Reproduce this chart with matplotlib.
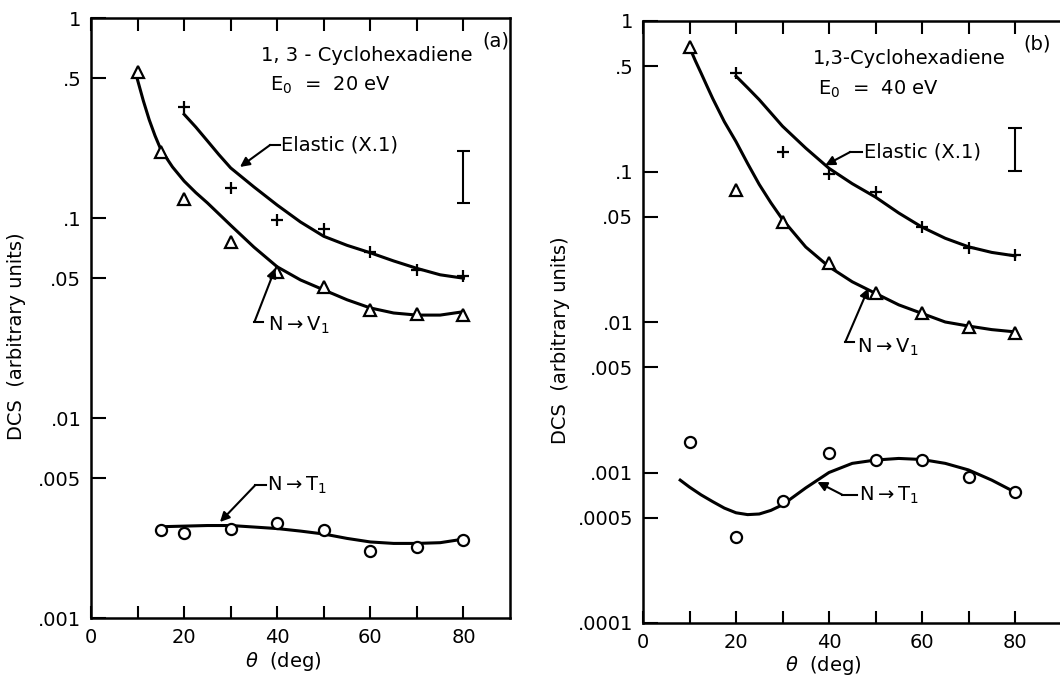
import matplotlib
matplotlib.use("Agg")
import matplotlib.pyplot as plt

plt.rcParams['font.family'] = ['DejaVu Sans']
plt.rcParams['mathtext.fontset'] = 'dejavusans'

# ---------------- Panel (a): E0 = 20 eV ----------------
theta_pts_a = [20, 30, 40, 50, 60, 70, 80]
elastic_pts_a = [0.359, 0.141, 0.098, 0.088, 0.0676, 0.055, 0.051]
theta_curve_el_a = [20, 22.5, 25, 27.5, 30, 35, 40, 45, 50, 55, 60, 65, 70, 75, 80]
elastic_curve_a = [0.33, 0.285, 0.243, 0.207, 0.178, 0.143, 0.116, 0.0955, 0.081, 0.073, 0.067,
                   0.061, 0.056, 0.052, 0.050]

theta_v_a = [10, 15, 20, 30, 40, 50, 60, 70, 80]
nv1_pts_a = [0.537, 0.214, 0.124, 0.076, 0.054, 0.045, 0.0347, 0.033, 0.0327]
theta_curve_v_a = [10, 11.25, 12.5, 13.75, 15, 17.5, 20, 22.5, 25, 30, 35, 40, 45, 50, 55, 60, 65,
                   70, 75, 80]
nv1_curve_a = [0.49, 0.385, 0.31, 0.258, 0.22, 0.18, 0.153, 0.134, 0.119, 0.092, 0.0715, 0.057,
               0.049, 0.0437, 0.039, 0.0355, 0.0335, 0.0327, 0.0327, 0.034]

theta_t_a = [15, 20, 30, 40, 50, 60, 70, 80]
nt1_pts_a = [0.00277, 0.00267, 0.0028, 0.00297, 0.00275, 0.00216, 0.00227, 0.00245]
theta_curve_t_a = [15, 20, 25, 30, 35, 40, 45, 50, 55, 60, 65, 70, 75, 80]
nt1_curve_a = [0.00286, 0.00288, 0.0029, 0.0029, 0.00285, 0.0028, 0.00272, 0.00263, 0.0025, 0.0024,
               0.00236, 0.00236, 0.00238, 0.00248]

errbar_a = (80, 0.119, 0.216)  # x, low, high

# ---------------- Panel (b): E0 = 40 eV ----------------
theta_pts_b = [20, 30, 40, 50, 60, 70, 80]
elastic_pts_b = [0.451, 0.135, 0.096, 0.073, 0.0427, 0.031, 0.0277]
theta_curve_el_b = [20, 22.5, 25, 27.5, 30, 35, 40, 45, 50, 55, 60, 65, 70, 75, 80]
elastic_curve_b = [0.43, 0.36, 0.30, 0.245, 0.20, 0.143, 0.105, 0.083, 0.0676, 0.053, 0.0427,
                   0.036, 0.0316, 0.029, 0.0275]

theta_v_b = [10, 20, 30, 40, 50, 60, 70, 80]
nv1_pts_b = [0.67, 0.0755, 0.046, 0.0246, 0.0155, 0.0114, 0.0093, 0.0084]
theta_curve_v_b = [10, 11.25, 12.5, 13.75, 15, 17.5, 20, 22.5, 25, 27.5, 30, 35, 40, 45, 50, 55, 60,
                   65, 70, 75, 80]
nv1_curve_b = [0.67, 0.545, 0.45, 0.37, 0.305, 0.214, 0.158, 0.113, 0.082, 0.062, 0.048, 0.0315,
               0.0233, 0.0185, 0.0155, 0.013, 0.0114, 0.010, 0.0094, 0.0089, 0.0086]

theta_t_b = [10, 20, 30, 40, 50, 60, 70, 80]
nt1_pts_b = [0.00159, 0.00037, 0.00065, 0.00135, 0.00121, 0.00122, 0.00094, 0.00074]
theta_curve_t_b = [8, 10, 12.5, 15, 17.5, 20, 22.5, 25, 27.5, 30, 35, 40, 45, 50, 55, 60, 65, 70,
                   75, 80]
nt1_curve_b = [0.00089, 0.00080, 0.00071, 0.00064, 0.00058, 0.00054, 0.000525, 0.00053, 0.00056,
               0.00061, 0.00079, 0.0010, 0.00115, 0.00121, 0.00124, 0.00122, 0.00115, 0.00104,
               0.00089, 0.00074]

errbar_b = (80, 0.1007, 0.195)

xticks = [0, 10, 20, 30, 40, 50, 60, 70, 80]
xticklabels = ['0', '', '20', '', '40', '', '60', '', '80']
yticks_a = [1, 0.5, 0.1, 0.05, 0.01, 0.005, 0.001]
yticklabels_a = ['1', '.5', '.1', '.05', '.01', '.005', '.001']
yticks_b = [1, 0.5, 0.1, 0.05, 0.01, 0.005, 0.001, 0.0005, 0.0001]
yticklabels_b = ['1', '.5', '.1', '.05', '.01', '.005', '.001', '.0005', '.0001']

W, H = 1060, 676
fig = plt.figure(figsize=(W / 100, H / 100), dpi=100)

ax_a = fig.add_axes([91 / W, (H - 618) / H, 419 / W, 600 / H])
ax_b = fig.add_axes([643 / W, (H - 623) / H, 418.5 / W, 602 / H])

FS = 14
LW = 2.2


def style(ax, yticks, yticklabels, ylim):
    ax.set_yscale('log')
    ax.set_xlim(0, 90)
    ax.set_ylim(*ylim)
    ax.set_xticks(xticks)
    ax.set_xticklabels(xticklabels, fontsize=FS)
    ax.set_yticks(yticks)
    ax.set_yticklabels(yticklabels, fontsize=FS)
    ax.minorticks_off()
    ax.tick_params(axis='x', which='major', direction='in', top=True, bottom=True,
                   length=9, width=1.5, pad=7)
    ax.tick_params(axis='y', which='major', direction='in', left=True, right=False,
                   length=11, width=1.5, pad=7)
    for s in ax.spines.values():
        s.set_linewidth(1.8)
    ax.set_xlabel(r'$\theta$  (deg)', fontsize=FS)
    ax.set_ylabel('DCS  (arbitrary units)', fontsize=FS)


style(ax_a, yticks_a, yticklabels_a, (0.001, 1))
style(ax_b, yticks_b, yticklabels_b, (0.0001, 1))
ax_b.spines['right'].set_visible(False)

ax_a.xaxis.set_label_coords(0.46, -0.053)
ax_a.yaxis.set_label_coords(-0.155, 0.47)
ax_b.xaxis.set_label_coords(0.43, -0.052)
ax_b.yaxis.set_label_coords(-0.175, 0.47)

mk = dict(color='k', linestyle='none', zorder=3)


def draw(ax, tp, ep, tce, ec, tv, vp, tcv, vc, tt, tpn, tct, tc, eb):
    ax.plot(tce, ec, color='k', lw=LW, zorder=2)
    ax.plot(tcv, vc, color='k', lw=LW, zorder=2)
    ax.plot(tct, tc, color='k', lw=LW, zorder=2)
    ax.plot(tp, ep, marker='+', markersize=9, mew=1.6, **mk)
    ax.plot(tv, vp, marker='^', markersize=8, mew=1.6, mfc='white', **mk)
    ax.plot(tt, tpn, marker='o', markersize=8, mew=1.6, mfc='white', **mk)
    x, lo, hi = eb
    ax.vlines(x, lo, hi, color='k', lw=1.5)
    ax.hlines([lo, hi], x - 1.4, x + 1.4, color='k', lw=1.5)


draw(ax_a, theta_pts_a, elastic_pts_a, theta_curve_el_a, elastic_curve_a,
     theta_v_a, nv1_pts_a, theta_curve_v_a, nv1_curve_a,
     theta_t_a, nt1_pts_a, theta_curve_t_a, nt1_curve_a, errbar_a)
draw(ax_b, theta_pts_b, elastic_pts_b, theta_curve_el_b, elastic_curve_b,
     theta_v_b, nv1_pts_b, theta_curve_v_b, nv1_curve_b,
     theta_t_b, nt1_pts_b, theta_curve_t_b, nt1_curve_b, errbar_b)


def leader(ax, text, tip, corner, end, textpos):
    ax.plot([corner[0], end[0]], [corner[1], end[1]], color='k', lw=1.5)
    ax.annotate('', xy=tip, xytext=corner,
                arrowprops=dict(arrowstyle='-|>', color='k', lw=1.5,
                                mutation_scale=14, shrinkA=0, shrinkB=0))
    ax.text(textpos[0], textpos[1], text, fontsize=FS, ha='left', va='center')


# Panel (a) annotations
leader(ax_a, 'Elastic (X.1)', (32.0, 0.18), (38.5, 0.232), (40.6, 0.232), (40.8, 0.232))
leader(ax_a, r'N$\rightarrow$V$_1$', (39.6, 0.0562), (35.1, 0.0302), (37.0, 0.0302), (38.0, 0.0290))
leader(ax_a, r'N$\rightarrow$T$_1$', (27.7, 0.00302), (35.3, 0.00462), (37.6, 0.00462), (37.8, 0.00462))
ax_a.text(0.405, 0.938, '1, 3 - Cyclohexadiene', transform=ax_a.transAxes, fontsize=FS,
          ha='left', va='center')
ax_a.text(0.427, 0.888, r'E$_0$  =  20 eV', transform=ax_a.transAxes, fontsize=FS,
          ha='left', va='center')
ax_a.text(0.967, 0.962, '(a)', transform=ax_a.transAxes, fontsize=FS, ha='center', va='center')

# Panel (b) annotations
leader(ax_b, 'Elastic (X.1)', (39.2, 0.110), (44.6, 0.135), (47.2, 0.135), (47.6, 0.135))
leader(ax_b, r'N$\rightarrow$V$_1$', (48.5, 0.0168), (43.5, 0.00736), (45.3, 0.00736), (46.0, 0.0068))
leader(ax_b, r'N$\rightarrow$T$_1$', (37.5, 0.000865), (42.9, 0.00071), (46.0, 0.00071), (46.4, 0.00071))
ax_b.text(0.405, 0.9385, '1,3-Cyclohexadiene', transform=ax_b.transAxes, fontsize=FS,
          ha='left', va='center')
ax_b.text(0.417, 0.886, r'E$_0$  =  40 eV', transform=ax_b.transAxes, fontsize=FS,
          ha='left', va='center')
ax_b.text(0.91, 0.962, '(b)', transform=ax_b.transAxes, fontsize=FS, ha='left', va='center')

fig.savefig('out.png', dpi=100)
